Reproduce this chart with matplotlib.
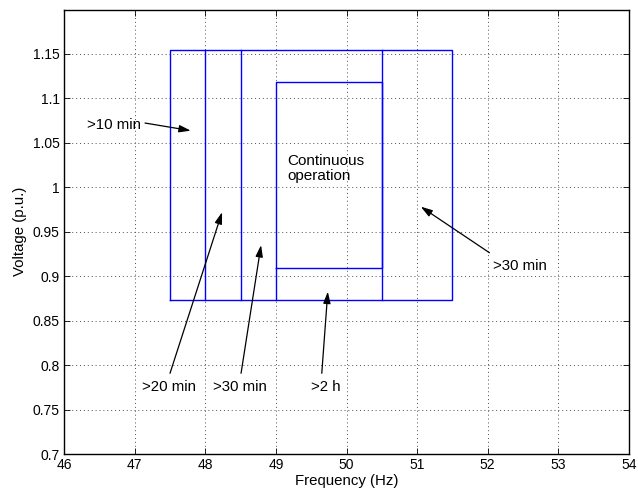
import matplotlib
matplotlib.use("Agg")
import matplotlib.pyplot as plt
import numpy as np

plt.rcParams["font.family"] = ["Liberation Sans", "DejaVu Sans"]

# operating regions (frequency in Hz, voltage in p.u.)
outer_f = [47.5, 51.5]
outer_v = [0.873, 1.155]
inner_f = [49.0, 50.5]
inner_v = [0.909, 1.118]
split_f = [48.0, 48.5, 50.5]       # full-height dividers
low_split_f = [49.0]               # divider below the inner box

# annotations: text, text position, arrow tail, arrow tip
labels = [">10 min", ">20 min", ">30 min", ">2 h", ">30 min"]
text_xy = [(46.715, 1.0706), (47.487, 0.7757), (48.493, 0.7757),
           (49.704, 0.7757), (52.455, 0.9115)]
tail_xy = [(47.147, 1.0723), (47.501, 0.7908), (48.507, 0.7908),
           (49.650, 0.7908), (52.024, 0.9264)]
tip_xy = [(47.795, 1.0637), (48.238, 0.9720), (48.790, 0.9350),
          (49.735, 0.8826), (51.052, 0.9782)]

x_ticks = np.arange(46, 54.5, 1)
y_ticks = [0.7, 0.75, 0.8, 0.85, 0.9, 0.95, 1.0, 1.05, 1.1, 1.15]
y_tick_labels = ["0.7", "0.75", "0.8", "0.85", "0.9", "0.95", "1", "1.05", "1.1", "1.15"]

fig = plt.figure(figsize=(6.38, 4.95), dpi=100)
ax = fig.add_axes([64 / 638, 41 / 495, 565 / 638, 444.5 / 495])

blue = "#0000ff"
lw = 1.0
ax.plot([outer_f[0], outer_f[1], outer_f[1], outer_f[0], outer_f[0]],
        [outer_v[0], outer_v[0], outer_v[1], outer_v[1], outer_v[0]], color=blue, lw=lw)
for f in split_f:
    ax.plot([f, f], outer_v, color=blue, lw=lw)
for f in low_split_f:
    ax.plot([f, f], [outer_v[0], inner_v[0]], color=blue, lw=lw)
ax.plot([inner_f[0], inner_f[1], inner_f[1], inner_f[0], inner_f[0]],
        [inner_v[0], inner_v[0], inner_v[1], inner_v[1], inner_v[0]], color=blue, lw=lw)

for txt, (tx, ty), (sx, sy), (px, py) in zip(labels, text_xy, tail_xy, tip_xy):
    ax.annotate("", xy=(px, py), xytext=(sx, sy),
                arrowprops=dict(arrowstyle="-|>,head_length=0.7,head_width=0.22",
                                color="k", lw=0.9, shrinkA=0, shrinkB=0))
    ax.text(tx, ty, txt, ha="center", va="center", fontsize=10.8)

ax.text(49.163, 1.021, "Continuous\noperation", ha="left", va="center",
        fontsize=11, linespacing=1.05)

ax.set_xlim(46, 54)
ax.set_ylim(0.7, 1.2)
ax.set_xticks(x_ticks)
ax.set_xticklabels([f"{int(v)}" for v in x_ticks])
ax.set_yticks(y_ticks)
ax.set_yticklabels(y_tick_labels)
ax.tick_params(direction="in", length=4, width=0.6, labelsize=10,
               top=True, right=True, pad=3)
ax.grid(True, linestyle=(0, (1, 3)), color="0.3", lw=0.7)
for s in ax.spines.values():
    s.set_linewidth(1.0)

ax.set_xlabel("Frequency (Hz)", fontsize=10.8, labelpad=1)
ax.set_ylabel("Voltage (p.u.)", fontsize=10.8, labelpad=4)

fig.savefig("out.png", dpi=100)
